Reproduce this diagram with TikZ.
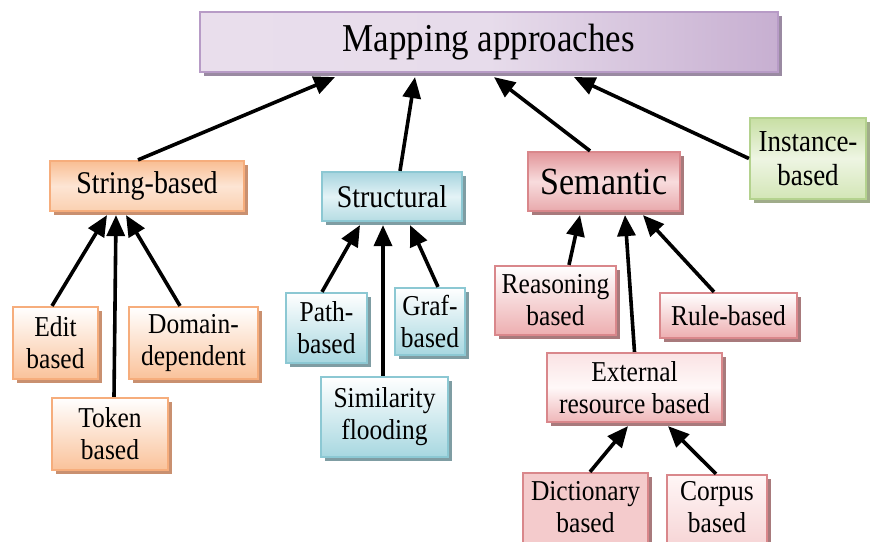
\documentclass[tikz,border=0pt]{standalone}
\usepackage{fontspec}
\setmainfont[FakeStretch=0.885]{Liberation Serif}
\usetikzlibrary{arrows.meta,shadows}
\definecolor{orB}{HTML}{F6AD7C}
\definecolor{orS}{HTML}{C99070}
\definecolor{blB}{HTML}{8CC8D3}
\definecolor{blS}{HTML}{7F9DA3}
\definecolor{rdB}{HTML}{D9878B}
\definecolor{rdS}{HTML}{A87A7C}
\definecolor{puB}{HTML}{B79BC6}
\definecolor{puS}{HTML}{9A8AA2}
\definecolor{grB}{HTML}{B4D28E}
\definecolor{grS}{HTML}{A0AC8A}
\definecolor{orT}{HTML}{F9BE93}
\definecolor{orM}{HTML}{FDE5D4}
\definecolor{orD}{HTML}{FBD0B0}
\definecolor{orF}{HTML}{FAC29A}
\definecolor{blT}{HTML}{A6D4DE}
\definecolor{blM}{HTML}{E4F3F6}
\definecolor{blD}{HTML}{B5DCE3}
\definecolor{blF}{HTML}{A7D7E0}
\definecolor{rdT}{HTML}{E29599}
\definecolor{rdM}{HTML}{F8DCDD}
\definecolor{rdD}{HTML}{E8A9AC}
\definecolor{rdF}{HTML}{EDAEB0}
\definecolor{rxT}{HTML}{FAE3E4}
\definecolor{rxM}{HTML}{FFF8F8}
\definecolor{rxD}{HTML}{EFB6B8}
\definecolor{dcF}{HTML}{F4CBCC}
\definecolor{cpT}{HTML}{FFF6F6}
\definecolor{cpD}{HTML}{F6D3D4}
\definecolor{puL}{HTML}{E9DEEC}
\definecolor{puM}{HTML}{E7DCEB}
\definecolor{puR}{HTML}{C7AFD1}
\definecolor{grT}{HTML}{C8DFA4}
\definecolor{grM}{HTML}{EEF5E3}
\definecolor{grD}{HTML}{D3E6B6}
\tikzset{
  box/.style={rectangle, inner sep=0pt, align=center, line width=2.2pt,
    font=\fontsize{28.8}{32}\selectfont},
  txt/.style={inner sep=0pt, align=center, font=\fontsize{28.8}{32}\selectfont},
  sh/.style={drop shadow={shadow xshift=4pt, shadow yshift=-4pt, fill=#1, opacity=1}},
  orbig/.style={box, draw=orB, sh=orS, top color=orT, bottom color=orD, middle color=orM},
  orsm/.style={box, draw=orB, sh=orS, top color=white, bottom color=orF},
  blbig/.style={box, draw=blB, sh=blS, top color=blT, bottom color=blD, middle color=blM},
  blsm/.style={box, draw=blB, sh=blS, top color=white, bottom color=blF},
  rdbig/.style={box, draw=rdB, sh=rdS, top color=rdT, bottom color=rdD, middle color=rdM},
  rdsm/.style={box, draw=rdB, sh=rdS, top color=white, bottom color=rdF},
  rdmid/.style={box, draw=rdB, sh=rdS, top color=rxT, bottom color=rxD, middle color=rxM},
  arr/.style={line width=3.6pt, black, -{Triangle[length=21pt,width=18pt]}},
}
\begin{document}
\begin{tikzpicture}[x=1pt,y=-1pt]
\useasboundingbox (0,0) rectangle (873,541);
% top
\node[box, draw=puB, sh=puS, left color=puL, right color=puR, middle color=puM,
  minimum width=578, minimum height=60, font=\fontsize{39.5}{40}\selectfont] (map) at (489,42) {Mapping approaches};
% second level
\node[orbig, minimum width=194, minimum height=50, font=\fontsize{31.6}{32}\selectfont] (string) at (147,186) {String-based};
\node[blbig, minimum width=140, minimum height=49, font=\fontsize{31.6}{32}\selectfont] (struct) at (392,196.5) {Structural};
\node[rdbig, minimum width=152, minimum height=59, font=\fontsize{38.4}{38}\selectfont] (sem) at (604,181.5) {Semantic};
\node[box, draw=grB, sh=grS, top color=grT, bottom color=grD, middle color=grM,
  minimum width=116, minimum height=81, font=\fontsize{30.5}{34}\selectfont] (inst) at (808,158.5) {Instance-\\based};
% string children
\node[orsm, minimum width=85, minimum height=72] (edit) at (55.5,343) {Edit\\based};
\node[orsm, minimum width=129, minimum height=72] (domain) at (193.5,343) {Domain-\\dependent};
\node[orsm, minimum width=116, minimum height=72] (token) at (110,434) {Token\\based};
% structural children
\node[blsm, minimum width=81, minimum height=70] (path) at (326.5,328) {Path-\\based};
\node[blsm, minimum width=70, minimum height=67] (graf) at (430,321.5) {Graf-\\based};
\node[blsm, minimum width=127, minimum height=80] (sim) at (384.5,417) {Similarity\\flooding};
% semantic children
\node[rdsm, minimum width=121, minimum height=69] (reason) at (555.5,300.5) {Reasoning\\based};
\node[rdsm, minimum width=137, minimum height=45] (rule) at (728.5,315.5) {Rule-based};
\node[rdmid, minimum width=175, minimum height=69] (ext) at (634.5,387.5) {External\\resource based};
\node[box, draw=rdB, sh=rdS, fill=dcF, minimum width=125, minimum height=74] (dict) at (585.5,510) {};
\node[txt] (dicttxt) at ([shift={(0,-3)}]dict.center) {Dictionary\\based};
\node[box, draw=rdB, sh=rdS, top color=cpT, bottom color=cpD, minimum width=100, minimum height=74] (corpus) at (717,512) {};
\node[txt] (corpustxt) at ([shift={(0,-5)}]corpus.center) {Corpus\\based};
% arrows
\draw[arr] ([shift={(-9,0)}]string.north) -- ([shift={(-154,4)}]map.south);
\draw[arr] ([shift={(8,0)}]struct.north) -- ([shift={(-74,4)}]map.south);
\draw[arr] ([shift={(-14,0)}]sem.north) -- ([shift={(5,4)}]map.south);
\draw[arr] (inst.west) -- ([shift={(85,4)}]map.south);
\draw[arr] ([shift={(-3.5,0)}]edit.north) -- ([shift={(-40,3)}]string.south);
\draw[arr] ([shift={(4,0)}]token.north) -- ([shift={(-31,3)}]string.south);
\draw[arr] ([shift={(-13.5,0)}]domain.north) -- ([shift={(-21,3)}]string.south);
\draw[arr] ([shift={(-4.5,0)}]path.north) -- ([shift={(-32,3)}]struct.south);
\draw[arr] ([shift={(-1.5,0)}]sim.north) -- ([shift={(-9,3)}]struct.south);
\draw[arr] ([shift={(8,0)}]graf.north) -- ([shift={(18,3)}]struct.south);
\draw[arr] ([shift={(13.5,0)}]reason.north) -- ([shift={(-24,3)}]sem.south);
\draw[arr] (ext.north) -- ([shift={(21,3)}]sem.south);
\draw[arr] ([shift={(-14.5,0)}]rule.north) -- ([shift={(39,3)}]sem.south);
\draw[arr] ([shift={(4.5,0)}]dict.north) -- ([shift={(-6.5,3)}]ext.south);
\draw[arr] ([shift={(-1,0)}]corpus.north) -- ([shift={(33.5,3)}]ext.south);
\end{tikzpicture}
\end{document}
